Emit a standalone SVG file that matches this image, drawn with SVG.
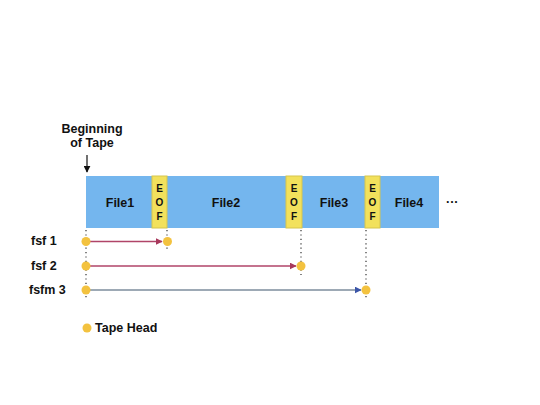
<svg xmlns="http://www.w3.org/2000/svg" width="540" height="405" viewBox="0 0 540 405">
<defs>
<style>
text{font-family:"Liberation Sans",Arial,sans-serif;font-weight:bold;fill:#111}
.file{font-size:12.5px;text-anchor:middle}
.eof{font-size:10px;text-anchor:middle}
.lbl{font-size:12.5px}
.tape{fill:#74b6ee}
.eofb{fill:#f2e15c;stroke:#d6c54c;stroke-width:1}
.dot{fill:#f3c23f}
.vd{stroke:#333;stroke-width:1.2;stroke-dasharray:1.2 3.2;fill:none}
</style>
<marker id="ar" viewBox="0 0 10 10" refX="9" refY="5" markerWidth="7" markerHeight="7" orient="auto" markerUnits="userSpaceOnUse"><path d="M0,0 L10,5 L0,10 z" fill="#a8395c"/></marker>
<marker id="ab" viewBox="0 0 10 10" refX="9" refY="5" markerWidth="7" markerHeight="7" orient="auto" markerUnits="userSpaceOnUse"><path d="M0,0 L10,5 L0,10 z" fill="#3b55a8"/></marker>
<marker id="ak" viewBox="0 0 10 10" refX="9" refY="5" markerWidth="7" markerHeight="7" orient="auto" markerUnits="userSpaceOnUse"><path d="M0,0 L10,5 L0,10 z" fill="#111"/></marker>
</defs>
<rect width="540" height="405" fill="#fff"/>
<g id="tape">
<rect class="tape" x="86" y="176" width="353" height="52"/>
<text class="file" x="120" y="207">File1</text>
<text class="file" x="226" y="207">File2</text>
<text class="file" x="334" y="207">File3</text>
<text class="file" x="409" y="207">File4</text>
</g>
<g id="eof1"><rect class="eofb" x="152" y="176" width="15" height="52"/><text class="eof" x="159.5" y="192">E</text><text class="eof" x="159.5" y="206">O</text><text class="eof" x="159.5" y="220">F</text></g>
<g id="eof2"><rect class="eofb" x="286" y="176" width="16" height="52"/><text class="eof" x="294" y="192">E</text><text class="eof" x="294" y="206">O</text><text class="eof" x="294" y="220">F</text></g>
<g id="eof3"><rect class="eofb" x="365" y="176" width="15" height="52"/><text class="eof" x="372.5" y="192">E</text><text class="eof" x="372.5" y="206">O</text><text class="eof" x="372.5" y="220">F</text></g>
<g id="more"><text class="lbl" x="446" y="206">···</text></g>
<g id="begin">
<text class="lbl" x="92" y="133" text-anchor="middle">Beginning</text>
<text class="lbl" x="92" y="147" text-anchor="middle">of Tape</text>
</g>
<g id="labels">
<text class="lbl" x="31" y="245">fsf 1</text>
<text class="lbl" x="31" y="270">fsf 2</text>
<text class="lbl" x="29" y="294">fsfm 3</text>
</g>
<g id="connectors">
<line x1="87" y1="155" x2="87" y2="172" stroke="#111" stroke-width="1.2" marker-end="url(#ak)"/>
<line class="vd" x1="86" y1="230" x2="86" y2="298"/>
<line class="vd" x1="167" y1="230" x2="167" y2="250"/>
<line class="vd" x1="301" y1="230" x2="301" y2="275"/>
<line class="vd" x1="366" y1="230" x2="366" y2="300"/>
<line x1="90" y1="241.5" x2="162" y2="241.5" stroke="#b04468" stroke-width="1.3" marker-end="url(#ar)"/>
<line x1="90" y1="266" x2="296" y2="266" stroke="#b04468" stroke-width="1.3" marker-end="url(#ar)"/>
<line x1="90" y1="290" x2="361" y2="290" stroke="#7d8c9c" stroke-width="1.5" marker-end="url(#ab)"/>
</g>
<g id="heads">
<circle class="dot" cx="86" cy="241.5" r="4.5"/>
<circle class="dot" cx="167.5" cy="241.5" r="4.5"/>
<circle class="dot" cx="86" cy="266" r="4.5"/>
<circle class="dot" cx="301" cy="266" r="4.5"/>
<circle class="dot" cx="86" cy="290" r="4.5"/>
<circle class="dot" cx="366" cy="290" r="4.5"/>
</g>
<g id="legend">
<circle class="dot" cx="87" cy="328" r="4.5"/>
<text class="lbl" x="95" y="332">Tape Head</text>
</g>
</svg>
